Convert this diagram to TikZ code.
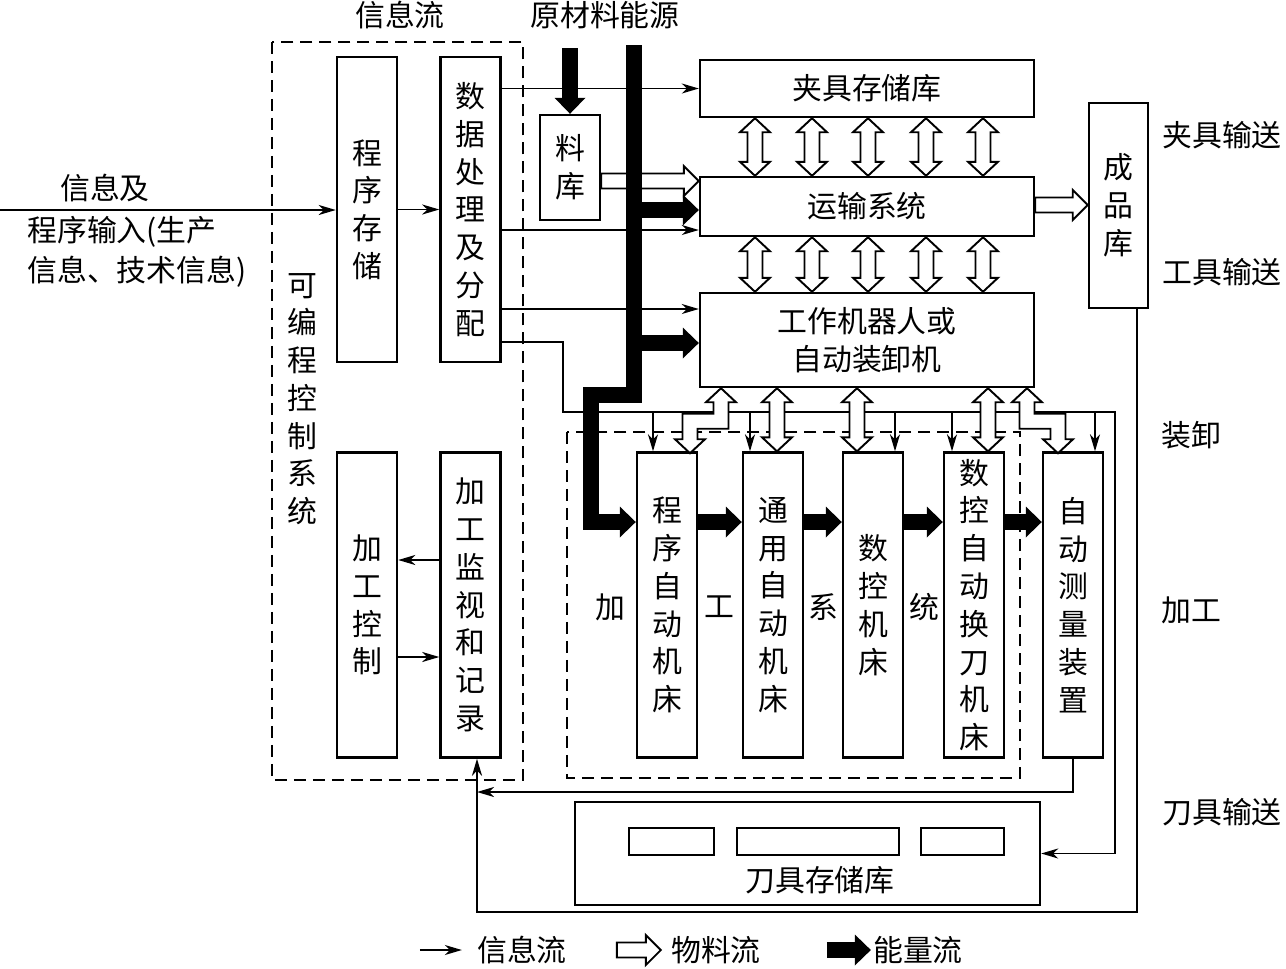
\documentclass[tikz,border=0pt]{standalone}
\usepackage{fontspec}
\setmainfont{Noto Sans CJK SC}
\usetikzlibrary{arrows.meta,calc,positioning}

\tikzset{
  mbox/.style={draw, line width=1.4pt, inner sep=0pt, align=center},
  vbox/.style={mbox, minimum width=1.2cm, minimum height=6.1cm},
  lbl/.style={inner sep=0pt, align=center},
  info/.style={line width=1pt, -{Stealth[length=0.34cm, width=0.2cm, inset=0.1cm]}},
  matflow/.style={draw, fill=white, line width=1.1pt, line join=miter},
  energy/.style={line width=0.32cm, line join=miter, -{Triangle[length=0.32cm, width=0.62cm, line width=0pt]}},
  dashbox/.style={line width=1.1pt, dash pattern=on 0.24cm off 0.14cm}
}

% hollow double arrow, tips at #1 (top) and #2 (bottom)
\newcommand{\matvv}[2]{%
  \path (#1) coordinate (mT) (#2) coordinate (mB);
  \filldraw[matflow] (mT) -- ++(15,14) -- ++(-7.5,0) -- ($(mB)+(7.5,-14)$) -- ++(7.5,0) -- (mB)
    -- ++(-15,-14) -- ++(7.5,0) -- ($(mT)+(-7.5,14)$) -- ++(-7.5,0) -- cycle;}
% hollow arrow to the right, tail #1, tip #2
\newcommand{\matright}[2]{%
  \path (#1) coordinate (mT) (#2) coordinate (mB);
  \filldraw[matflow] ($(mT)+(0,-7.5)$) -- ($(mB)+(-15,-7.5)$) -- ++(0,-7.5) -- (mB)
    -- ++(-15,15) -- ++(0,-7.5) -- ($(mT)+(0,7.5)$) -- cycle;}

\begin{document}
\begin{tikzpicture}[x=0.02cm, y=-0.02cm, font=\fontsize{17pt}{21.5pt}\selectfont]
\useasboundingbox (0,0) rectangle (1286,968);

% control system
\draw[dashbox] (272,42) rectangle (523,780);
\node[vbox] (prog) at (367,209.5) {程\\序\\存\\储};
\node[vbox] (data) at (470.5,209.5) {数\\据\\处\\理\\及\\分\\配};
\node[vbox] (ctrl) at (367,605) {加\\工\\控\\制};
\node[vbox] (mon) at (470.5,605) {加\\工\\监\\视\\和\\记\\录};
\node[lbl] (plcname) at (302,399) {可\\编\\程\\控\\制\\系\\统};

% stores and transport
\node[mbox, minimum width=6.68cm, minimum height=1.14cm] (jig) at (867,88.5) {夹具存储库};
\node[mbox, minimum width=6.68cm, minimum height=1.18cm] (trans) at (867,206.5) {运输系统};
\node[mbox, minimum width=6.68cm, minimum height=1.88cm] (robot) at (867,340) {工作机器人或\\自动装卸机};
\node[mbox, minimum width=1.18cm, minimum height=4.1cm] (prod) at (1118.5,205.5) {成\\品\\库};
\node[mbox, minimum width=1.2cm, minimum height=2.1cm] (store) at (570,167.5) {料\\库};

% machining system
\draw[dashbox] (567,432) rectangle (1020,778);
\node[vbox] (m1) at (667,605) {程\\序\\自\\动\\机\\床};
\node[vbox] (m2) at (773,605) {通\\用\\自\\动\\机\\床};
\node[vbox] (m3) at (873,605) {数\\控\\机\\床};
\node[vbox] (m4) at (974,605) {数\\控\\自\\动\\换\\刀\\机\\床};
\node[vbox] (m5) at (1073,605) {自\\动\\测\\量\\装\\置};
\node[lbl] (g1) at (610,607) {加};
\node[lbl] (g2) at (719,607) {工};
\node[lbl] (g3) at (823,607) {系};
\node[lbl] (g4) at (924,607) {统};

% tool store
\node[mbox, minimum width=9.3cm, minimum height=2.06cm] (tool) at (807.5,853.5) {};
\node[mbox, minimum width=1.7cm, minimum height=0.54cm] (slot1) at (671.5,841.5) {};
\node[mbox, minimum width=3.24cm, minimum height=0.54cm] (slot2) at (818,841.5) {};
\node[mbox, minimum width=1.66cm, minimum height=0.54cm] (slot3) at (962.5,841.5) {};
\node[lbl] (toolname) at (820,880) {刀具存储库};

% labels
\node[lbl] (infotop) at (400,15) {信息流};
\node[lbl] (rawtop) at (605,15) {原材料能源};
\node[lbl] (inlbl1) at (105,188) {信息及};
\node[lbl, anchor=west] (inlbl2) at (27,232) {程序输入(生产};
\node[lbl, anchor=west] (inlbl3) at (27,272) {信息、技术信息)};
\node[lbl] (r1) at (1222,135) {夹具输送};
\node[lbl] (r2) at (1222,272) {工具输送};
\node[lbl] (r3) at (1191,435) {装卸};
\node[lbl] (r4) at (1191,610) {加工};
\node[lbl] (r5) at (1222,812) {刀具输送};

% information flow
\coordinate (in) at (0,210);
\draw[info] (in) -- (in -| prog.west);
\draw[info] (prog.east) -- (data.west);
\draw[info] (data.east |- jig.west) -- (jig.west);
\draw[info] (data.east |- 0,230) -- (trans.west |- 0,230);
\draw[info] (data.east |- 0,309) -- (robot.west |- 0,309);
\draw[info] (data.east |- 0,342) -| (563,412) -- (1115,412) |- (tool.east);
\draw[info] (653,412) -- (653,0 |- m1.north);
\draw[info] (750,412) -- (750,0 |- m2.north);
\draw[info] (895,412) -- (895,0 |- m3.north);
\draw[info] (952,412) -- (952,0 |- m4.north);
\draw[info] (1095,412) -- (1095,0 |- m5.north);
\draw[info] (mon.west |- 0,560) -- (ctrl.east |- 0,560);
\draw[info] (ctrl.east |- 0,657) -- (mon.west |- 0,657);
\draw[info] (m5.south) |- (477,792);
\draw[info] (1137,0 |- prod.south) |- (477,912) -- (477,0 |- mon.south);

% material flow
\foreach \x in {755,812,868,926,983} {
  \matvv{\x,0 |- jig.south}{\x,0 |- trans.north}
  \matvv{\x,0 |- trans.south}{\x,0 |- robot.north}
}
\matvv{777,0 |- robot.south}{777,0 |- m2.north}
\matvv{857,0 |- robot.south}{857,0 |- m3.north}
\matvv{988,0 |- robot.south}{988,0 |- m4.north}
\filldraw[matflow] (721,0 |- robot.south) -- ++(15,14) -- ++(-7.5,0) -- ++(0,26.5) -- ++(-31,0)
  -- ++(0,10.5) -- ++(7.5,0) -- ++(-15,14) -- ++(-15,-14) -- ++(7.5,0) -- ++(0,-25.5)
  -- ++(31,0) -- ++(0,-11.5) -- ++(-7.5,0) -- cycle;
\filldraw[matflow] (1027,0 |- robot.south) -- ++(15,14) -- ++(-7.5,0) -- ++(0,11.5) -- ++(31,0)
  -- ++(0,25.5) -- ++(7.5,0) -- ++(-15,14) -- ++(-15,-14) -- ++(7.5,0) -- ++(0,-10.5)
  -- ++(-31,0) -- ++(0,-26.5) -- ++(-7.5,0) -- cycle;
\matright{store.east |- 0,181}{trans.west |- 0,181}
\matright{trans.east |- 0,205}{prod.west |- 0,205}

% energy flow
\draw[energy] (store.north |- 0,48) -- (store.north);
\draw[energy] (634,45) -- (634,395) -- (591,395) -- (591,522) -- (m1.west |- 0,522);
\draw[energy] (634,210) -- (trans.west |- 0,210);
\draw[energy] (634,343) -- (robot.west |- 0,343);
\draw[energy] (m1.east |- 0,522) -- (m2.west |- 0,522);
\draw[energy] (m2.east |- 0,522) -- (m3.west |- 0,522);
\draw[energy] (m3.east |- 0,522) -- (m4.west |- 0,522);
\draw[energy] (m4.east |- 0,522) -- (m5.west |- 0,522);

% legend
\node[lbl] (leginfo) at (522,950) {信息流};
\node[lbl] (legmat) at (716,950) {物料流};
\node[lbl] (legen) at (918,950) {能量流};
\draw[info] ([xshift=-1.14cm]leginfo.west) -- ([xshift=-0.3cm]leginfo.west);
\matright{[xshift=-1.08cm]legmat.west}{[xshift=-0.2cm]legmat.west}
\draw[energy] ([xshift=-0.92cm]legen.west) -- ([xshift=-0.04cm]legen.west);
\end{tikzpicture}
\end{document}
